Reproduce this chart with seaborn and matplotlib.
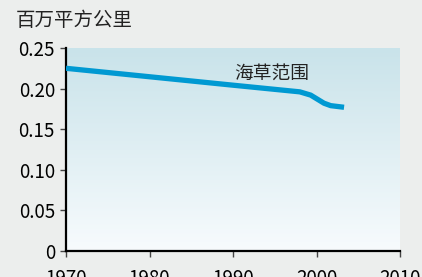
import matplotlib
matplotlib.use("Agg")
import matplotlib.pyplot as plt
import seaborn as sns
import numpy as np
import pandas as pd
from matplotlib.colors import LinearSegmentedColormap

years = [1970, 1980, 1990, 1998, 1999.3, 2000.9, 2001.7, 2003.3]
area = [0.225, 0.2146, 0.2042, 0.196, 0.192, 0.182, 0.179, 0.177]
x_ticks = [1970, 1980, 1990, 2000, 2010]
y_ticks = [0, 0.05, 0.10, 0.15, 0.20, 0.25]
y_labels = ["0", "0.05", "0.10", "0.15", "0.20", "0.25"]
unit_label = "百万平方公里"
series_label = "海草范围"

sns.set_style("ticks")
plt.rcParams['font.family'] = ['Noto Sans CJK SC', 'DejaVu Sans']

fig = plt.figure(figsize=(4.22, 2.77), dpi=100, facecolor="#eceeed")
ax = fig.add_axes([66/422, 1-251/277, (400-66)/422, (251-48)/277])

df = pd.DataFrame({"year": years, "area": area})
cmap = LinearSegmentedColormap.from_list("bg", ["#f7fbfd", "#c9e3ea"])
grad = np.linspace(0, 1, 256).reshape(-1, 1)
ax.imshow(grad, extent=[1970, 2010, 0, 0.25], origin="lower", aspect="auto",
          cmap=cmap, zorder=0)
sns.lineplot(data=df, x="year", y="area", ax=ax, color="#0099d2", linewidth=3.8,
             zorder=3, solid_capstyle="butt")

ax.set_xlim(1970, 2010)
ax.set_ylim(0, 0.25)
ax.set_xticks(x_ticks)
ax.set_xticklabels([str(t) for t in x_ticks])
ax.set_yticks(y_ticks)
ax.set_yticklabels(y_labels)
ax.set_xlabel("")
ax.set_ylabel("")
for s in ["top", "right"]:
    ax.spines[s].set_visible(False)
for s in ["left", "bottom"]:
    ax.spines[s].set_linewidth(1.6)
    ax.spines[s].set_color("black")
ax.tick_params(axis="both", labelsize=13.5, colors="#444444", length=4, width=1,
               pad=4, labelcolor="black")
ax.tick_params(axis="x", pad=8)
ax.set_facecolor("#eceeed")

ax.text(1990.2, 0.2185, series_label, fontsize=13.5, color="#222222", ha="left", va="center")
fig.text(16/422, 1-21/277, unit_label, fontsize=14, color="#222222", ha="left", va="center")

fig.savefig("out.png", dpi=100, facecolor=fig.get_facecolor())
